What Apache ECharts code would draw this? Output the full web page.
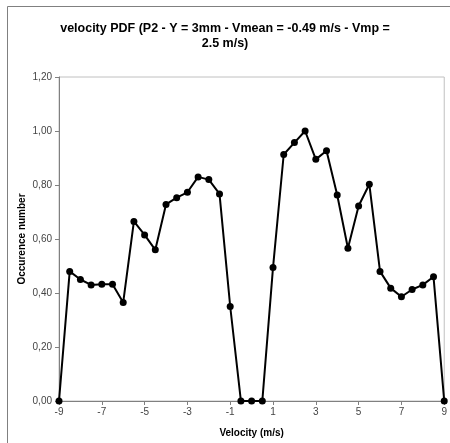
<!DOCTYPE html>
<html>
<head>
<meta charset="utf-8">
<script src="https://cdn.jsdelivr.net/npm/echarts@6/dist/echarts.min.js"></script>
<style>html,body{margin:0;padding:0;background:#fff}#c{width:450px;height:443px}</style>
</head>
<body>
<div id="c"></div>
<script>
const titleText = "velocity PDF (P2 - Y = 3mm - Vmean = -0.49 m/s - Vmp =\n2.5 m/s)";
const xName = "Velocity (m/s)";
const yName = "Occurence number";
const velocities = [-9,-8.5,-8,-7.5,-7,-6.5,-6,-5.5,-5,-4.5,-4,-3.5,-3,-2.5,-2,-1.5,-1,-0.5,0,0.5,1,1.5,2,2.5,3,3.5,4,4.5,5,5.5,6,6.5,7,7.5,8,8.5,9];
const occurrences = [0,0.48,0.45,0.43,0.432,0.432,0.365,0.665,0.615,0.56,0.728,0.753,0.773,0.83,0.82,0.767,0.35,0,0,0,0.494,0.913,0.957,1.0,0.895,0.927,0.763,0.566,0.722,0.803,0.48,0.418,0.386,0.413,0.43,0.46,0];

const chart = echarts.init(document.getElementById('c'), null, {renderer:'canvas'});
const font = "'Liberation Sans', Arial, sans-serif";
chart.setOption({
  animation:false,
  backgroundColor:'#fff',
  title:{
    text:titleText, left:'center', top:16,
    textStyle:{fontFamily:font, fontSize:12.5, fontWeight:'bold', color:'#000', lineHeight:15}
  },
  graphic:[{type:'rect', shape:{x:7.5,y:6.5,width:480,height:480}, style:{fill:null, stroke:'#808080', lineWidth:1}, silent:true}],
  grid:{left:59, right:2, top:77, bottom:42, show:true, borderColor:'#c0c0c0', borderWidth:1, containLabel:false},
  xAxis:{
    type:'value', min:-9, max:9, interval:2,
    name:xName, nameLocation:'middle', nameGap:27, nameMoveOverlap:false,
    nameTextStyle:{fontFamily:font, fontSize:10, fontWeight:'bold', color:'#000'},
    axisLine:{show:true, onZero:false, lineStyle:{color:'#808080', width:1}},
    axisTick:{show:true, inside:false, length:4, lineStyle:{color:'#808080'}},
    axisLabel:{fontFamily:font, fontSize:10, color:'#444', margin:6},
    splitLine:{show:false}
  },
  yAxis:{
    type:'value', min:0, max:1.2, interval:0.2,
    name:yName, nameLocation:'middle', nameGap:32, nameRotate:90, nameMoveOverlap:false,
    nameTextStyle:{fontFamily:font, fontSize:10, fontWeight:'bold', color:'#000'},
    axisLine:{show:true, onZero:false, lineStyle:{color:'#808080', width:1}},
    axisTick:{show:true, inside:false, length:4, lineStyle:{color:'#808080'}},
    axisLabel:{fontFamily:font, fontSize:10, color:'#444', margin:7,
      formatter:v=>v.toFixed(2).replace('.',',')},
    splitLine:{show:false}
  },
  series:[{
    type:'line',
    data:velocities.map((v,i)=>[v,occurrences[i]]),
    symbol:'circle', symbolSize:7,
    lineStyle:{color:'#000', width:2},
    itemStyle:{color:'#000'},
    clip:false
  }]
});
</script>
</body>
</html>
